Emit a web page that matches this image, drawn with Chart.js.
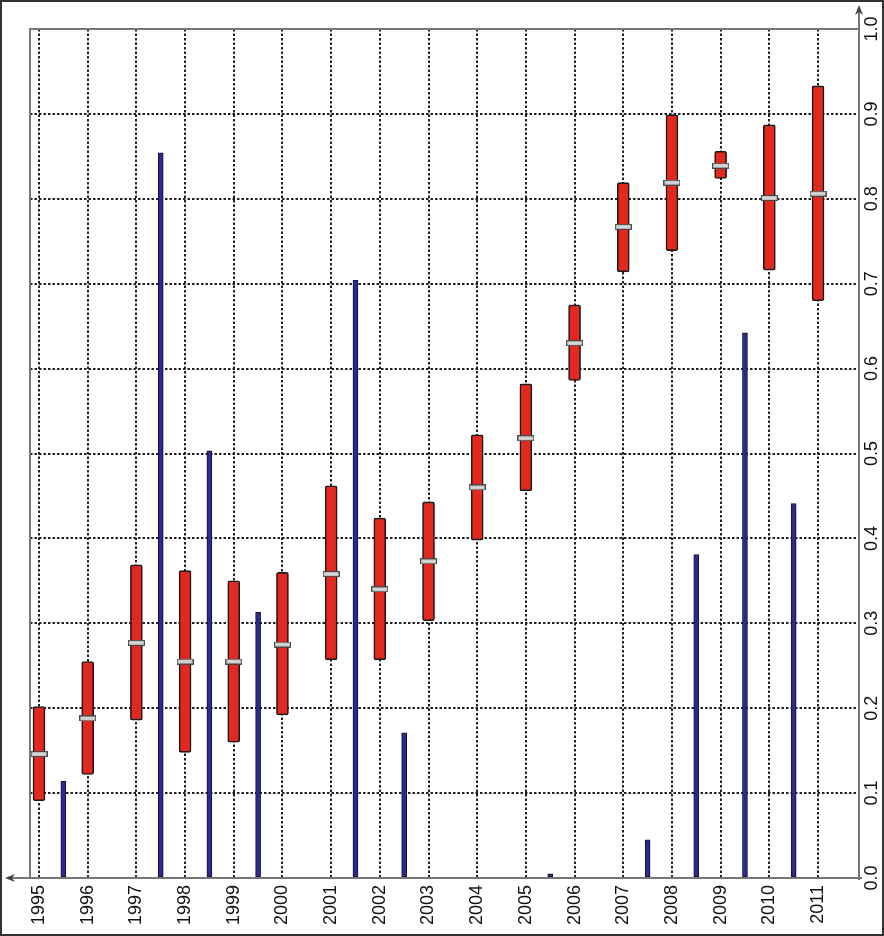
<!DOCTYPE html>
<html>
<head>
<meta charset="utf-8">
<script src="https://cdn.jsdelivr.net/npm/chart.js@4/dist/chart.umd.min.js"></script>
<style>
  body { margin: 0; background: #fff; }
  canvas { display: block; }
</style>
</head>
<body>
<canvas id="grafico" width="884" height="936"></canvas>
<script>
// anos (eixo horizontal)
const anos = [1995, 1996, 1997, 1998, 1999, 2000, 2001, 2002, 2003, 2004, 2005, 2006, 2007, 2008, 2009, 2010, 2011];

// barras vermelhas: faixa min-max e mediana
const minimos = [0.091, 0.122, 0.186, 0.148, 0.160, 0.192, 0.257, 0.257, 0.303, 0.398, 0.456, 0.586, 0.714, 0.739, 0.824, 0.716, 0.680];
const maximos = [0.202, 0.255, 0.369, 0.362, 0.350, 0.360, 0.462, 0.424, 0.443, 0.522, 0.582, 0.675, 0.819, 0.899, 0.856, 0.887, 0.933];
const medianas = [0.146, 0.188, 0.277, 0.255, 0.255, 0.275, 0.358, 0.340, 0.373, 0.460, 0.518, 0.630, 0.767, 0.819, 0.839, 0.801, 0.806];

// barras azuis (entre os anos)
const posicoesAzul = [1995.5, 1997.5, 1998.5, 1999.5, 2001.5, 2002.5, 2005.5, 2007.5, 2008.5, 2009.5, 2010.5];
const valoresAzul = [0.114, 0.854, 0.503, 0.313, 0.704, 0.171, 0.005, 0.045, 0.381, 0.642, 0.441];

// eixo de valores
const ticksValor = [0.0, 0.1, 0.2, 0.3, 0.4, 0.5, 0.6, 0.7, 0.8, 0.9, 1.0];

const fonte = '"Liberation Sans", Arial, sans-serif';

// marcador da mediana
function criarMarcador() {
  const c = document.createElement("canvas");
  c.width = 17;
  c.height = 6;
  const g = c.getContext("2d");
  g.fillStyle = "#d8d8d8";
  g.strokeStyle = "#444";
  g.lineWidth = 1.1;
  g.fillRect(0.6, 0.6, 15.8, 4.8);
  g.strokeRect(0.6, 0.6, 15.8, 4.8);
  return c;
}

// eixos, setas, moldura e rótulos do eixo de valores
const pluginEixos = {
  id: "eixos",
  afterDatasetsDraw(chart) {
    const ctx = chart.ctx;
    const a = chart.chartArea;
    const y = chart.scales.y;

    ctx.save();
    ctx.strokeStyle = "#777";
    ctx.lineWidth = 2;
    ctx.beginPath();
    ctx.moveTo(a.left, a.bottom);
    ctx.lineTo(a.left, a.top);
    ctx.lineTo(a.right, a.top);
    ctx.stroke();

    // eixo inferior com seta para a esquerda
    ctx.beginPath();
    ctx.moveTo(a.right + 3, a.bottom);
    ctx.lineTo(9, a.bottom);
    ctx.stroke();
    // eixo direito com seta para cima
    ctx.beginPath();
    ctx.moveTo(a.right, a.bottom + 2);
    ctx.lineTo(a.right, 9);
    ctx.stroke();

    ctx.fillStyle = "#444";
    ctx.beginPath();
    ctx.moveTo(5, a.bottom);
    ctx.lineTo(15, a.bottom - 4);
    ctx.lineTo(12, a.bottom);
    ctx.lineTo(15, a.bottom + 4);
    ctx.closePath();
    ctx.fill();
    ctx.beginPath();
    ctx.moveTo(a.right, 5);
    ctx.lineTo(a.right - 4, 15);
    ctx.lineTo(a.right, 12);
    ctx.lineTo(a.right + 4, 15);
    ctx.closePath();
    ctx.fill();

    // rótulos girados do eixo de valores
    ctx.fillStyle = "#111";
    ctx.font = "18px " + fonte;
    ctx.textAlign = "center";
    ctx.textBaseline = "middle";
    for (let i = 0; i < ticksValor.length; i++) {
      const py = y.getPixelForValue(ticksValor[i]);
      ctx.save();
      ctx.translate(a.right + 13, py);
      ctx.rotate(-Math.PI / 2);
      ctx.fillText(ticksValor[i].toFixed(1), 0, 0);
      ctx.restore();
    }

    // moldura
    ctx.strokeStyle = "#333";
    ctx.lineWidth = 2;
    ctx.strokeRect(1, 1, chart.width - 2, chart.height - 2);
    ctx.restore();
  },
};

const dadosFaixa = [];
const dadosMediana = [];
for (let i = 0; i < anos.length; i++) {
  dadosFaixa.push({ x: anos[i], y: [minimos[i], maximos[i]] });
  dadosMediana.push({ x: anos[i], y: medianas[i] });
}

const dadosAzul = [];
for (let i = 0; i < posicoesAzul.length; i++) {
  dadosAzul.push({ x: posicoesAzul[i], y: valoresAzul[i] });
}

const grafico = new Chart(document.getElementById("grafico"), {
  type: "bar",
  data: {
    datasets: [
      {
        type: "scatter",
        data: dadosMediana,
        pointStyle: criarMarcador(),
        order: 0,
      },
      {
        data: dadosFaixa,
        backgroundColor: "#e3281d",
        borderColor: "#1a1a1a",
        borderWidth: 1.6,
        borderRadius: 2,
        borderSkipped: false,
        barThickness: 12,
        grouped: false,
        order: 1,
      },
      {
        data: dadosAzul,
        backgroundColor: "#2c2a8e",
        borderColor: "#101030",
        borderWidth: 1,
        borderSkipped: false,
        barThickness: 5,
        grouped: false,
        order: 2,
      },
    ],
  },
  options: {
    responsive: false,
    animation: false,
    layout: { padding: { left: 30, top: 29, right: 0, bottom: 0 } },
    plugins: {
      legend: { display: false },
      tooltip: { enabled: false },
    },
    scales: {
      x: {
        type: "linear",
        min: 1994.815,
        max: 2011.842,
        offset: false,
        afterBuildTicks(scale) {
          scale.ticks = anos.map((v) => ({ value: v }));
        },
        afterFit(scale) {
          scale.height = 58;
        },
        grid: {
          offset: false,
          color: "#222",
          lineWidth: 2,
          drawTicks: false,
        },
        border: { display: false, dash: [2.5, 2] },
        ticks: {
          autoSkip: false,
          minRotation: 90,
          maxRotation: 90,
          padding: 7,
          color: "#111",
          font: { family: fonte, size: 18 },
          callback: (v) => String(v),
        },
      },
      y: {
        position: "right",
        min: 0,
        max: 1,
        afterBuildTicks(scale) {
          scale.ticks = ticksValor.map((v) => ({ value: v }));
        },
        afterFit(scale) {
          scale.width = 25;
        },
        grid: {
          color: "#222",
          lineWidth: 2,
          drawTicks: false,
        },
        border: { display: false, dash: [2.5, 2] },
        ticks: { display: false },
      },
    },
  },
  plugins: [pluginEixos],
});
</script>
</body>
</html>
